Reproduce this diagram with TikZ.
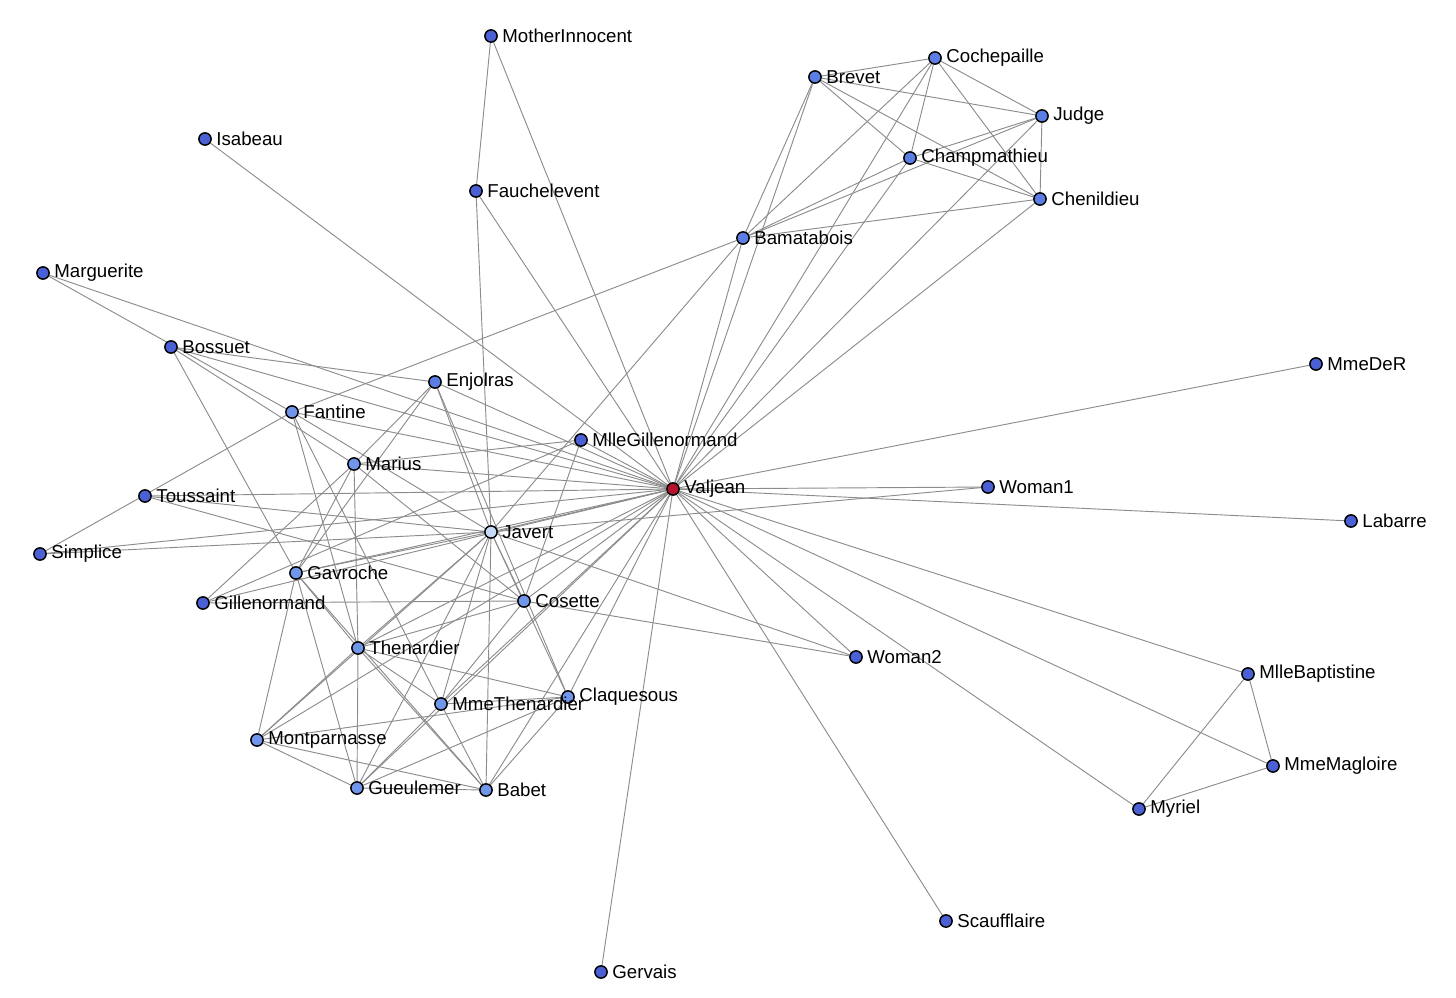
\documentclass[tikz,border=0pt]{standalone}
\usepackage{fontspec}
\setmainfont{Liberation Sans}
\usetikzlibrary{backgrounds}
\definecolor{lowblue}{HTML}{4A60D4}
\definecolor{midblue}{HTML}{5B7EE5}
\definecolor{highblue}{HTML}{7096EC}
\definecolor{javertblue}{HTML}{C5DBF5}
\definecolor{hubred}{HTML}{B5122E}
\definecolor{linkgray}{HTML}{8C8C8C}
\tikzset{
    person/.style={circle, draw=black, line width=1.1pt, inner sep=0pt,
        minimum size=9.2pt, fill=#1},
    person/.default=lowblue,
    every label/.style={font=\fontsize{14}{16}\selectfont, inner sep=1pt},
    link/.style={draw=linkgray, line width=0.7pt}
}
\begin{document}
\begin{tikzpicture}[x=0.75pt, y=-0.75pt, label distance=2.2pt]
    \useasboundingbox (0, 0) rectangle (1456, 997);
    % characters
    \node[person=hubred, label=right:Valjean] (Valjean) at (673, 489) {};
    \node[person=javertblue, label=right:Javert] (Javert) at (491, 532) {};
    \node[person, label=right:MotherInnocent] (MotherInnocent) at (491, 36) {};
    \node[person, label=right:Isabeau] (Isabeau) at (205, 139) {};
    \node[person, label=right:Fauchelevent] (Fauchelevent) at (476, 191) {};
    \node[person, label=right:Marguerite] (Marguerite) at (43, 273) {};
    \node[person, label=right:Bossuet] (Bossuet) at (171, 347) {};
    \node[person=midblue, label=right:Enjolras] (Enjolras) at (435, 382) {};
    \node[person=highblue, label=right:Fantine] (Fantine) at (292, 412) {};
    \node[person, label=right:MlleGillenormand] (MlleGillenormand) at (581, 440) {};
    \node[person=highblue, label=right:Marius] (Marius) at (354, 464) {};
    \node[person, label=right:Toussaint] (Toussaint) at (145, 496) {};
    \node[person, label=right:Woman1] (Woman1) at (988, 487) {};
    \node[person, label=right:Labarre] (Labarre) at (1351, 521) {};
    \node[person, label=right:Simplice] (Simplice) at (40, 554) {};
    \node[person=highblue, label=right:Gavroche] (Gavroche) at (296, 573) {};
    \node[person, label=right:Gillenormand] (Gillenormand) at (203, 603) {};
    \node[person=highblue, label=right:Cosette] (Cosette) at (524, 601) {};
    \node[person=highblue, label=right:Thenardier] (Thenardier) at (358, 648) {};
    \node[person, label=right:Woman2] (Woman2) at (856, 657) {};
    \node[person, label=right:MlleBaptistine] (MlleBaptistine) at (1248, 674) {};
    \node[person=highblue, label=right:Claquesous] (Claquesous) at (568, 697) {};
    \node[person=highblue, label=right:MmeThenardier] (MmeThenardier) at (441, 704) {};
    \node[person=highblue, label=right:Montparnasse] (Montparnasse) at (257, 740) {};
    \node[person, label=right:MmeMagloire] (MmeMagloire) at (1273, 766) {};
    \node[person=highblue, label=right:Gueulemer] (Gueulemer) at (357, 788) {};
    \node[person=highblue, label=right:Babet] (Babet) at (486, 790) {};
    \node[person, label=right:Myriel] (Myriel) at (1139, 809) {};
    \node[person, label=right:Scaufflaire] (Scaufflaire) at (946, 921) {};
    \node[person, label=right:Gervais] (Gervais) at (601, 972) {};
    \node[person=midblue, label=right:Brevet] (Brevet) at (815, 77) {};
    \node[person=midblue, label=right:Cochepaille] (Cochepaille) at (935, 58) {};
    \node[person=midblue, label=right:Judge] (Judge) at (1042, 116) {};
    \node[person=midblue, label=right:Champmathieu] (Champmathieu) at (910, 158) {};
    \node[person=midblue, label=right:Chenildieu] (Chenildieu) at (1040, 199) {};
    \node[person=midblue, label=right:Bamatabois] (Bamatabois) at (743, 238) {};
    \node[person, label=right:MmeDeR] (MmeDeR) at (1316, 364) {};
    % co-occurrences
    \begin{scope}[on background layer]
        \foreach \b in {MotherInnocent, Isabeau, Fauchelevent, Marguerite, Bossuet,
                Enjolras, Fantine, MlleGillenormand, Marius, Toussaint, Woman1,
                Labarre, Simplice, Javert, Gavroche, Gillenormand, Cosette,
                Thenardier, Woman2, MlleBaptistine, Claquesous, MmeThenardier,
                Montparnasse, MmeMagloire, Gueulemer, Babet, Myriel, Scaufflaire,
                Gervais, Brevet, Cochepaille, Judge, Champmathieu, Chenildieu,
                Bamatabois, MmeDeR} {
            \draw[link] (Valjean) -- (\b);
        }
        \foreach \a/\b in {Myriel/MlleBaptistine, Myriel/MmeMagloire,
                MlleBaptistine/MmeMagloire, Marguerite/Fantine,
                Fantine/MmeThenardier, Fantine/Thenardier, Fantine/Javert,
                Fantine/Bamatabois, Fantine/Simplice,
                MmeThenardier/Thenardier, MmeThenardier/Cosette, MmeThenardier/Javert,
                MmeThenardier/Babet, MmeThenardier/Claquesous, MmeThenardier/Gueulemer,
                Thenardier/Cosette, Thenardier/Javert, Thenardier/Marius,
                Thenardier/Gavroche, Thenardier/Gueulemer, Thenardier/Babet,
                Thenardier/Claquesous, Thenardier/Montparnasse,
                Cosette/Javert, Cosette/Marius, Cosette/Woman2, Cosette/Gillenormand,
                Cosette/MlleGillenormand, Cosette/Toussaint,
                Javert/Simplice, Javert/Woman1, Javert/Woman2, Javert/Gueulemer,
                Javert/Babet, Javert/Claquesous, Javert/Montparnasse, Javert/Gavroche,
                Javert/Enjolras, Javert/Toussaint, Javert/Bamatabois,
                Javert/Fauchelevent, Fauchelevent/MotherInnocent,
                Bamatabois/Judge, Bamatabois/Champmathieu, Bamatabois/Brevet,
                Bamatabois/Chenildieu, Bamatabois/Cochepaille,
                Judge/Champmathieu, Judge/Brevet, Judge/Chenildieu, Judge/Cochepaille,
                Champmathieu/Brevet, Champmathieu/Chenildieu, Champmathieu/Cochepaille,
                Brevet/Chenildieu, Brevet/Cochepaille, Chenildieu/Cochepaille,
                Gillenormand/Marius, Gillenormand/MlleGillenormand,
                MlleGillenormand/Marius, Marius/Gavroche, Marius/Enjolras,
                Marius/Bossuet, Enjolras/Gavroche, Enjolras/Bossuet,
                Enjolras/Claquesous, Bossuet/Gavroche,
                Gavroche/Gueulemer, Gavroche/Babet, Gavroche/Montparnasse,
                Gueulemer/Babet, Gueulemer/Montparnasse, Gueulemer/Claquesous,
                Babet/Montparnasse, Babet/Claquesous, Claquesous/Montparnasse} {
            \draw[link] (\a) -- (\b);
        }
    \end{scope}
\end{tikzpicture}
\end{document}
